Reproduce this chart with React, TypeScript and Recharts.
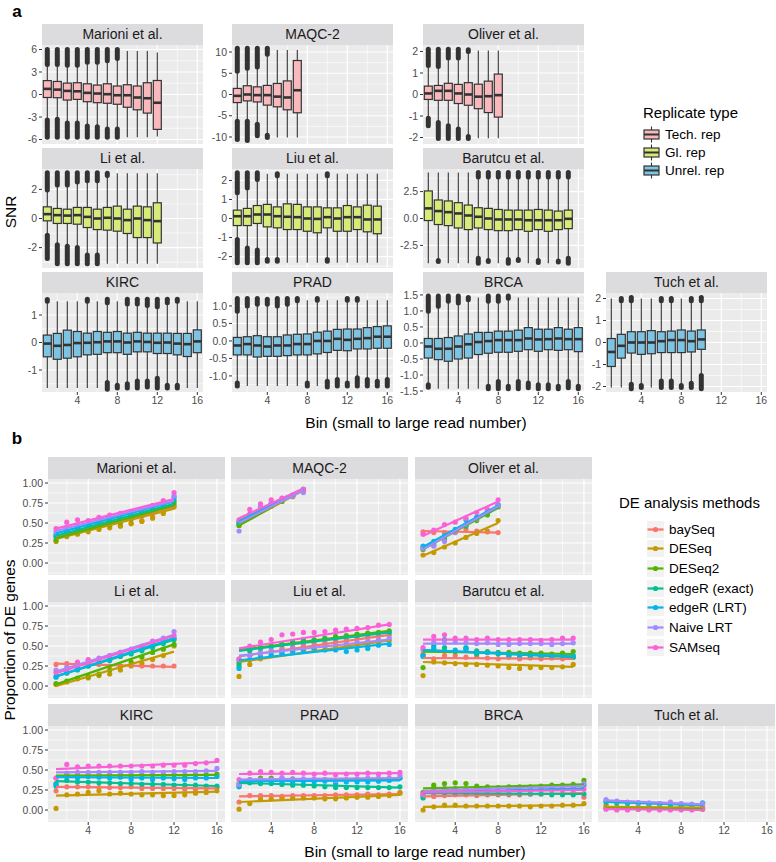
import React from "react";
import { ComposedChart, Bar, Scatter, XAxis, YAxis, CartesianGrid } from "recharts";

const FONT = '"Liberation Sans", Arial, Helvetica, sans-serif';

// ---------- panel a: SNR boxplots ----------
const repTypes = ["Tech. rep", "Gl. rep", "Unrel. rep"];
const repFills = ["#f8b8bc", "#d7ec78", "#7cc4e2"];

// per bin: [min, lower whisker, q1, median, q3, upper whisker, max]
const marioniBox = [
  [-5.7, -3.4, -0.4, 0.75, 1.85, 4.0, 6.0],
  [-5.7, -3.3, -0.43, 0.65, 1.74, 4.0, 6.0],
  [-5.7, -3.8, -0.74, 0.48, 1.52, 3.9, 6.0],
  [-5.7, -3.8, -0.65, 0.43, 1.57, 3.9, 6.0],
  [-5.7, -4.2, -0.96, 0.22, 1.43, 4.3, 6.0],
  [-5.7, -4.3, -1.09, 0.13, 1.26, 4.3, 6.0],
  [-5.7, -4.6, -1.17, 0.04, 1.43, 4.5, 6.0],
  [-5.7, -4.6, -1.3, -0.1, 1.13, 4.8, 6.0],
  [-5.7, -5.7, -1.7, -0.1, 1.3, 5.8, 5.8],
  [-5.7, -5.7, -2.04, -0.4, 1.13, 5.8, 5.8],
  [-5.7, -5.7, -2.48, -0.5, 1.57, 5.8, 5.8],
  [-5.6, -5.6, -4.65, -1.1, 1.87, 5.6, 5.6],
];
const maqcBox = [
  [-10.6, -6.3, -1.9, -0.32, 1.43, 5.5, 10.9],
  [-10.8, -6.3, -1.5, 0.0, 2.06, 6.2, 10.9],
  [-9.7, -7.0, -1.75, -0.15, 1.8, 6.5, 10.9],
  [-10.1, -9.6, -2.5, -0.15, 2.14, 9.5, 10.9],
  [-10.1, -10.1, -2.9, -0.5, 2.6, 10.5, 10.5],
  [-10.1, -10.1, -3.6, -0.7, 3.2, 10.5, 10.5],
  [-10.1, -10.1, -4.3, 1.0, 8.0, 10.5, 10.5],
];
const oliverBox = [
  [-1.45, -1.1, -0.23, 0.05, 0.39, 1.35, 2.1],
  [-2.05, -1.3, -0.27, 0.17, 0.42, 1.3, 2.1],
  [-2.05, -1.45, -0.27, 0.17, 0.52, 1.7, 2.1],
  [-2.05, -1.6, -0.42, 0.05, 0.47, 1.7, 2.1],
  [-2.05, -1.95, -0.5, 0.0, 0.55, 2.0, 2.08],
  [-2.03, -2.03, -0.66, -0.1, 0.48, 2.05, 2.05],
  [-2.03, -2.03, -0.84, -0.08, 0.62, 2.05, 2.05],
  [-2.03, -2.03, -1.05, -0.03, 0.95, 2.05, 2.05],
];
const liBox = [
  [-2.75, -1.15, -0.16, 0.3, 0.8, 1.95, 3.15],
  [-3.1, -1.8, -0.34, 0.23, 0.69, 2.3, 3.15],
  [-3.1, -1.9, -0.34, 0.2, 0.64, 2.3, 3.15],
  [-3.1, -2.0, -0.39, 0.23, 0.76, 2.5, 3.15],
  [-3.1, -2.5, -0.62, 0.11, 0.76, 2.6, 3.15],
  [-3.1, -2.5, -0.76, 0.0, 0.64, 2.6, 3.15],
  [-3.1, -3.1, -0.8, 0.05, 0.76, 2.95, 3.1],
  [-3.1, -3.1, -0.87, 0.0, 0.85, 3.1, 3.1],
  [-3.1, -3.1, -1.03, -0.11, 0.64, 3.1, 3.1],
  [-3.1, -3.1, -1.31, 0.0, 0.85, 3.1, 3.1],
  [-3.1, -3.1, -1.31, -0.11, 0.8, 3.1, 3.1],
  [-3.1, -3.1, -1.68, -0.18, 1.08, 3.1, 3.1],
];
const liuBox = [
  [-2.33, -1.1, -0.37, 0.12, 0.44, 1.35, 2.4],
  [-2.33, -1.55, -0.37, 0.12, 0.53, 1.6, 2.4],
  [-2.33, -1.65, -0.26, 0.21, 0.68, 2.05, 2.4],
  [-2.25, -2.15, -0.44, 0.21, 0.74, 2.35, 2.35],
  [-2.25, -2.15, -0.49, 0.12, 0.61, 2.25, 2.35],
  [-2.33, -2.33, -0.58, 0.09, 0.77, 2.35, 2.35],
  [-2.33, -2.33, -0.58, 0.07, 0.74, 2.35, 2.35],
  [-2.33, -2.33, -0.67, 0.0, 0.61, 2.35, 2.35],
  [-2.33, -2.33, -0.75, -0.02, 0.61, 2.35, 2.35],
  [-2.25, -2.15, -0.49, 0.07, 0.56, 2.25, 2.35],
  [-2.33, -2.33, -0.67, 0.0, 0.56, 2.35, 2.35],
  [-2.33, -2.33, -0.67, 0.07, 0.68, 2.35, 2.35],
  [-2.33, -2.33, -0.58, 0.07, 0.61, 2.35, 2.35],
  [-2.33, -2.33, -0.7, -0.05, 0.7, 2.35, 2.35],
  [-2.33, -2.33, -0.8, -0.05, 0.65, 2.35, 2.35],
];
const barutcuBox = [
  [-4.15, -4.15, -0.19, 0.94, 2.56, 4.28, 4.28],
  [-4.0, -3.9, -0.56, 0.69, 1.72, 4.28, 4.28],
  [-4.15, -4.15, -0.66, 0.59, 1.63, 4.28, 4.28],
  [-4.15, -4.15, -0.88, 0.47, 1.47, 4.28, 4.28],
  [-4.15, -4.15, -1.03, 0.28, 1.25, 4.28, 4.28],
  [-4.15, -3.7, -0.88, 0.16, 1.0, 3.85, 4.28],
  [-4.0, -3.9, -1.03, 0.0, 0.94, 3.85, 4.28],
  [-4.15, -4.15, -1.13, -0.09, 0.84, 3.85, 4.28],
  [-4.15, -3.8, -1.13, -0.09, 0.78, 3.85, 4.28],
  [-3.9, -3.8, -1.03, -0.09, 0.78, 3.85, 4.28],
  [-4.15, -4.15, -1.19, -0.16, 0.78, 3.85, 4.28],
  [-4.1, -3.9, -1.03, -0.16, 0.84, 3.85, 4.28],
  [-4.15, -4.15, -1.19, -0.16, 0.78, 3.85, 4.28],
  [-4.05, -3.95, -1.03, -0.16, 0.69, 3.85, 4.28],
  [-4.15, -3.7, -0.94, -0.03, 0.78, 3.85, 4.28],
];
const kircBox = [
  [-1.65, -1.65, -0.52, -0.04, 0.27, 1.5, 1.56],
  [-1.65, -1.65, -0.61, -0.12, 0.33, 1.5, 1.5],
  [-1.65, -1.65, -0.57, -0.09, 0.45, 1.5, 1.5],
  [-1.65, -1.65, -0.52, -0.02, 0.4, 1.5, 1.5],
  [-1.65, -1.65, -0.45, -0.01, 0.34, 1.5, 1.57],
  [-1.65, -1.65, -0.43, 0.01, 0.4, 1.5, 1.5],
  [-1.7, -1.45, -0.37, 0.04, 0.37, 1.45, 1.57],
  [-1.65, -1.55, -0.37, 0.04, 0.4, 1.5, 1.5],
  [-1.65, -1.5, -0.43, 0.0, 0.34, 1.4, 1.57],
  [-1.65, -1.4, -0.34, 0.04, 0.37, 1.4, 1.57],
  [-1.62, -1.4, -0.34, 0.02, 0.34, 1.35, 1.57],
  [-1.65, -1.3, -0.4, -0.01, 0.34, 1.3, 1.57],
  [-1.65, -1.55, -0.4, 0.0, 0.34, 1.45, 1.57],
  [-1.65, -1.55, -0.45, -0.04, 0.33, 1.5, 1.57],
  [-1.65, -1.65, -0.51, -0.06, 0.33, 1.5, 1.5],
  [-1.65, -1.65, -0.37, 0.04, 0.46, 1.5, 1.5],
];
const pradBox = [
  [-1.29, -1.2, -0.4, -0.13, 0.1, 0.85, 1.21],
  [-1.29, -1.29, -0.4, -0.09, 0.12, 1.0, 1.21],
  [-1.29, -1.29, -0.46, -0.13, 0.15, 1.05, 1.21],
  [-1.29, -1.29, -0.44, -0.16, 0.12, 1.05, 1.19],
  [-1.29, -1.29, -0.44, -0.13, 0.12, 1.0, 1.21],
  [-1.29, -1.29, -0.42, -0.13, 0.17, 1.05, 1.21],
  [-1.29, -1.29, -0.4, -0.09, 0.19, 1.15, 1.21],
  [-1.29, -1.2, -0.4, -0.09, 0.2, 1.16, 1.16],
  [-1.29, -1.29, -0.37, 0.0, 0.25, 1.16, 1.21],
  [-1.32, -1.15, -0.33, 0.0, 0.28, 1.16, 1.16],
  [-1.29, -1.1, -0.27, 0.06, 0.33, 1.16, 1.16],
  [-1.29, -1.2, -0.28, 0.03, 0.34, 1.16, 1.21],
  [-1.29, -1.05, -0.23, 0.06, 0.34, 1.16, 1.21],
  [-1.29, -1.1, -0.23, 0.08, 0.38, 1.16, 1.16],
  [-1.29, -1.15, -0.21, 0.12, 0.41, 1.16, 1.16],
  [-1.29, -1.1, -0.21, 0.12, 0.43, 1.16, 1.16],
];
const brcaBox = [
  [-1.38, -1.3, -0.47, -0.11, 0.14, 0.99, 1.47],
  [-1.43, -1.43, -0.52, -0.18, 0.14, 1.15, 1.47],
  [-1.43, -1.43, -0.57, -0.18, 0.17, 1.3, 1.47],
  [-1.43, -1.43, -0.5, -0.11, 0.22, 1.25, 1.47],
  [-1.43, -1.43, -0.47, -0.04, 0.28, 1.35, 1.42],
  [-1.43, -1.43, -0.36, 0.03, 0.33, 1.42, 1.42],
  [-1.43, -1.35, -0.32, 0.06, 0.33, 1.3, 1.47],
  [-1.43, -1.2, -0.29, 0.09, 0.37, 1.3, 1.47],
  [-1.43, -1.35, -0.29, 0.09, 0.37, 1.4, 1.47],
  [-1.43, -1.2, -0.26, 0.09, 0.4, 1.42, 1.42],
  [-1.4, -1.25, -0.21, 0.14, 0.48, 1.42, 1.42],
  [-1.43, -1.3, -0.26, 0.11, 0.43, 1.42, 1.42],
  [-1.43, -1.3, -0.21, 0.12, 0.43, 1.42, 1.42],
  [-1.43, -1.35, -0.23, 0.14, 0.48, 1.42, 1.42],
  [-1.4, -1.2, -0.21, 0.12, 0.43, 1.42, 1.42],
  [-1.43, -1.35, -0.27, 0.12, 0.48, 1.42, 1.42],
];
const tuchBox = [
  [-2.05, -2.05, -1.09, -0.43, 0.18, 2.0, 2.0],
  [-2.05, -2.05, -0.71, -0.15, 0.37, 1.9, 2.0],
  [-2.1, -1.9, -0.48, 0.0, 0.49, 1.9, 2.05],
  [-2.05, -1.95, -0.54, 0.0, 0.49, 2.0, 2.0],
  [-2.05, -2.05, -0.51, 0.0, 0.54, 2.0, 2.0],
  [-2.05, -1.75, -0.46, 0.06, 0.49, 1.9, 2.0],
  [-2.05, -1.75, -0.46, 0.11, 0.52, 1.9, 2.0],
  [-2.05, -1.95, -0.46, 0.11, 0.57, 2.0, 2.0],
  [-2.05, -1.85, -0.43, 0.06, 0.52, 1.9, 2.0],
  [-2.1, -1.5, -0.31, 0.14, 0.57, 1.9, 2.05],
];

const binTicks = [4, 8, 12, 16];

// ---------- panel b: proportion of DE genes ----------
const methods = ["baySeq", "DESeq", "DESeq2", "edgeR (exact)", "edgeR (LRT)", "Naive LRT", "SAMseq"];
const methodColors = ["#F8766D", "#C49A00", "#53B400", "#00C094", "#00B6EB", "#A58AFF", "#FB61D7"];
const propTicks = [0, 0.25, 0.5, 0.75, 1];

// rows follow `methods`; fits are [value at first bin, value at last bin]
const marioniDE = [
  [0.33, 0.37, 0.40, 0.42, 0.45, 0.47, 0.47, 0.50, 0.53, 0.58, 0.65, 0.72],
  [0.27, 0.33, 0.36, 0.39, 0.42, 0.44, 0.46, 0.49, 0.52, 0.56, 0.62, 0.70],
  [0.29, 0.35, 0.38, 0.42, 0.45, 0.48, 0.51, 0.55, 0.59, 0.63, 0.68, 0.75],
  [0.33, 0.38, 0.42, 0.45, 0.48, 0.51, 0.54, 0.58, 0.61, 0.65, 0.70, 0.78],
  [0.36, 0.41, 0.44, 0.47, 0.50, 0.53, 0.56, 0.60, 0.63, 0.67, 0.72, 0.82],
  [0.39, 0.45, 0.47, 0.50, 0.53, 0.56, 0.59, 0.62, 0.65, 0.69, 0.74, 0.84],
  [0.43, 0.51, 0.54, 0.53, 0.57, 0.60, 0.62, 0.64, 0.67, 0.72, 0.78, 0.88],
];
const marioniFit = [[0.33, 0.70], [0.30, 0.68], [0.31, 0.72], [0.34, 0.74], [0.37, 0.77], [0.40, 0.78], [0.43, 0.80]];

const maqcDE = [
  [0.50, 0.58, 0.66, 0.72, 0.78, 0.84, 0.91],
  [0.47, 0.57, 0.65, 0.71, 0.77, 0.83, 0.90],
  [0.47, 0.58, 0.66, 0.72, 0.77, 0.83, 0.91],
  [0.50, 0.60, 0.68, 0.74, 0.79, 0.84, 0.92],
  [0.52, 0.61, 0.70, 0.75, 0.80, 0.85, 0.92],
  [0.40, 0.60, 0.69, 0.74, 0.79, 0.83, 0.88],
  [0.54, 0.67, 0.74, 0.79, 0.81, 0.85, 0.92],
];
const maqcFit = [[0.53, 0.91], [0.47, 0.91], [0.47, 0.92], [0.50, 0.92], [0.52, 0.93], [0.50, 0.91], [0.56, 0.93]];

const oliverDE = [
  [0.39, 0.38, 0.38, 0.38, 0.42, 0.40, 0.40, 0.38],
  [0.10, 0.13, 0.20, 0.25, 0.32, 0.37, 0.39, 0.53],
  [0.17, 0.22, 0.30, 0.39, 0.46, 0.53, 0.60, 0.70],
  [0.20, 0.25, 0.32, 0.40, 0.47, 0.56, 0.63, 0.72],
  [0.21, 0.27, 0.34, 0.42, 0.54, 0.57, 0.64, 0.73],
  [0.18, 0.21, 0.27, 0.38, 0.48, 0.55, 0.66, 0.72],
  [0.36, 0.41, 0.48, 0.51, 0.56, 0.63, 0.67, 0.79],
];
const oliverFit = [[0.40, 0.38], [0.09, 0.50], [0.17, 0.69], [0.19, 0.70], [0.20, 0.72], [0.17, 0.71], [0.34, 0.77]];

const liDE = [
  [0.27, 0.28, 0.25, 0.27, 0.27, 0.25, 0.25, 0.26, 0.25, 0.25, 0.25, 0.25],
  [0.02, 0.05, 0.09, 0.10, 0.13, 0.15, 0.20, 0.25, 0.28, 0.33, 0.38, 0.50],
  [0.03, 0.06, 0.10, 0.12, 0.15, 0.20, 0.25, 0.30, 0.36, 0.42, 0.46, 0.52],
  [0.12, 0.16, 0.20, 0.25, 0.28, 0.32, 0.37, 0.40, 0.44, 0.48, 0.53, 0.58],
  [0.11, 0.17, 0.21, 0.25, 0.29, 0.33, 0.38, 0.42, 0.46, 0.50, 0.55, 0.60],
  [0.20, 0.24, 0.28, 0.32, 0.35, 0.38, 0.42, 0.46, 0.50, 0.55, 0.60, 0.68],
  [0.17, 0.21, 0.30, 0.33, 0.34, 0.38, 0.42, 0.44, 0.49, 0.56, 0.58, 0.63],
];
const liFit = [[0.28, 0.24], [0.0, 0.43], [0.02, 0.52], [0.12, 0.58], [0.12, 0.60], [0.18, 0.64], [0.16, 0.63]];

const liuDE = [
  [0.31, 0.38, 0.42, 0.44, 0.47, 0.49, 0.51, 0.53, 0.55, 0.57, 0.58, 0.60, 0.61, 0.63, 0.64],
  [0.12, 0.27, 0.34, 0.38, 0.41, 0.44, 0.45, 0.47, 0.49, 0.50, 0.51, 0.53, 0.50, 0.55, 0.57],
  [0.25, 0.45, 0.48, 0.50, 0.52, 0.55, 0.57, 0.58, 0.60, 0.62, 0.63, 0.65, 0.66, 0.67, 0.69],
  [0.28, 0.44, 0.47, 0.49, 0.52, 0.54, 0.56, 0.57, 0.59, 0.60, 0.62, 0.63, 0.65, 0.66, 0.67],
  [0.22, 0.33, 0.37, 0.39, 0.41, 0.43, 0.44, 0.46, 0.45, 0.45, 0.43, 0.45, 0.47, 0.51, 0.52],
  [0.34, 0.38, 0.41, 0.44, 0.45, 0.47, 0.48, 0.50, 0.51, 0.52, 0.54, 0.55, 0.56, 0.58, 0.60],
  [0.33, 0.50, 0.55, 0.58, 0.64, 0.65, 0.67, 0.67, 0.68, 0.70, 0.71, 0.72, 0.73, 0.76, 0.77],
];
const liuFit = [[0.37, 0.64], [0.30, 0.57], [0.45, 0.69], [0.44, 0.67], [0.32, 0.53], [0.38, 0.58], [0.47, 0.77]];

const barutcuDE = [
  [0.40, 0.34, 0.38, 0.38, 0.36, 0.37, 0.35, 0.34, 0.36, 0.34, 0.35, 0.34, 0.35, 0.34, 0.36],
  [0.13, 0.30, 0.29, 0.28, 0.27, 0.27, 0.26, 0.25, 0.23, 0.22, 0.23, 0.23, 0.23, 0.24, 0.27],
  [0.23, 0.45, 0.44, 0.43, 0.47, 0.44, 0.43, 0.42, 0.42, 0.41, 0.41, 0.41, 0.40, 0.41, 0.43],
  [0.38, 0.50, 0.48, 0.44, 0.48, 0.40, 0.42, 0.40, 0.38, 0.37, 0.37, 0.36, 0.36, 0.37, 0.36],
  [0.37, 0.47, 0.58, 0.45, 0.46, 0.43, 0.42, 0.41, 0.39, 0.38, 0.39, 0.38, 0.37, 0.38, 0.38],
  [0.45, 0.55, 0.54, 0.55, 0.54, 0.53, 0.54, 0.52, 0.52, 0.53, 0.53, 0.53, 0.52, 0.53, 0.54],
  [0.48, 0.62, 0.64, 0.60, 0.60, 0.58, 0.60, 0.58, 0.58, 0.58, 0.58, 0.57, 0.58, 0.60, 0.60],
];
const barutcuFit = [[0.35, 0.34], [0.30, 0.24], [0.43, 0.40], [0.45, 0.36], [0.45, 0.37], [0.53, 0.53], [0.58, 0.58]];

const kircDE = [
  [0.24, 0.29, 0.29, 0.29, 0.28, 0.28, 0.28, 0.29, 0.27, 0.27, 0.27, 0.27, 0.26, 0.26, 0.27, 0.28],
  [0.02, 0.19, 0.20, 0.22, 0.24, 0.20, 0.21, 0.20, 0.19, 0.19, 0.18, 0.18, 0.19, 0.21, 0.22, 0.24],
  [0.33, 0.44, 0.43, 0.43, 0.43, 0.43, 0.44, 0.43, 0.44, 0.44, 0.43, 0.44, 0.43, 0.44, 0.44, 0.45],
  [0.30, 0.37, 0.35, 0.35, 0.34, 0.34, 0.33, 0.33, 0.32, 0.32, 0.32, 0.31, 0.31, 0.31, 0.30, 0.30],
  [0.32, 0.42, 0.40, 0.42, 0.41, 0.40, 0.41, 0.38, 0.40, 0.38, 0.40, 0.39, 0.38, 0.40, 0.40, 0.42],
  [0.40, 0.46, 0.47, 0.47, 0.47, 0.47, 0.47, 0.47, 0.48, 0.47, 0.47, 0.48, 0.48, 0.48, 0.49, 0.52],
  [0.40, 0.57, 0.54, 0.55, 0.55, 0.55, 0.55, 0.55, 0.55, 0.55, 0.56, 0.56, 0.56, 0.58, 0.59, 0.62],
];
const kircFit = [[0.29, 0.27], [0.18, 0.23], [0.43, 0.44], [0.36, 0.30], [0.41, 0.40], [0.47, 0.49], [0.51, 0.60]];

const pradDE = [
  [0.10, 0.18, 0.18, 0.18, 0.17, 0.18, 0.18, 0.18, 0.18, 0.19, 0.19, 0.19, 0.20, 0.19, 0.20, 0.22],
  [0.01, 0.08, 0.14, 0.14, 0.15, 0.15, 0.15, 0.15, 0.14, 0.14, 0.15, 0.16, 0.16, 0.17, 0.18, 0.21],
  [0.33, 0.38, 0.40, 0.40, 0.40, 0.39, 0.38, 0.38, 0.38, 0.37, 0.37, 0.38, 0.38, 0.38, 0.39, 0.40],
  [0.29, 0.34, 0.33, 0.33, 0.32, 0.31, 0.31, 0.30, 0.29, 0.28, 0.28, 0.28, 0.28, 0.28, 0.28, 0.29],
  [0.30, 0.36, 0.36, 0.36, 0.34, 0.35, 0.36, 0.35, 0.36, 0.33, 0.35, 0.35, 0.35, 0.36, 0.37, 0.40],
  [0.32, 0.38, 0.38, 0.38, 0.40, 0.38, 0.39, 0.39, 0.38, 0.37, 0.38, 0.39, 0.40, 0.40, 0.40, 0.43],
  [0.38, 0.46, 0.48, 0.47, 0.46, 0.47, 0.46, 0.45, 0.46, 0.44, 0.45, 0.45, 0.46, 0.45, 0.46, 0.47],
];
const pradFit = [[0.17, 0.20], [0.10, 0.19], [0.36, 0.39], [0.34, 0.28], [0.36, 0.37], [0.38, 0.40], [0.45, 0.46]];

const brcaDE = [
  [0.16, 0.17, 0.18, 0.19, 0.19, 0.18, 0.19, 0.19, 0.19, 0.19, 0.20, 0.20, 0.20, 0.20, 0.21, 0.16],
  [0.00, 0.04, 0.06, 0.06, 0.05, 0.05, 0.05, 0.05, 0.05, 0.05, 0.04, 0.05, 0.05, 0.06, 0.06, 0.08],
  [0.22, 0.31, 0.33, 0.34, 0.33, 0.30, 0.29, 0.28, 0.29, 0.29, 0.29, 0.30, 0.31, 0.31, 0.32, 0.37],
  [0.15, 0.21, 0.22, 0.22, 0.21, 0.20, 0.20, 0.20, 0.20, 0.20, 0.20, 0.20, 0.19, 0.19, 0.19, 0.20],
  [0.18, 0.23, 0.26, 0.26, 0.25, 0.24, 0.24, 0.25, 0.25, 0.25, 0.26, 0.26, 0.27, 0.27, 0.28, 0.31],
  [0.20, 0.25, 0.27, 0.27, 0.26, 0.26, 0.26, 0.27, 0.27, 0.27, 0.28, 0.28, 0.29, 0.29, 0.30, 0.33],
  [0.20, 0.22, 0.24, 0.24, 0.23, 0.23, 0.22, 0.23, 0.24, 0.24, 0.24, 0.25, 0.25, 0.25, 0.25, 0.26],
];
const brcaFit = [[0.17, 0.21], [0.04, 0.06], [0.27, 0.32], [0.21, 0.20], [0.22, 0.27], [0.24, 0.30], [0.22, 0.25]];

const tuchDE = [
  [0.03, 0.02, 0.02, 0.02, 0.02, 0.02, 0.02, 0.02, 0.02, 0.02],
  [0.06, 0.04, 0.03, 0.03, 0.03, 0.03, 0.03, 0.03, 0.03, 0.03],
  [0.02, 0.01, 0.01, 0.01, 0.01, 0.01, 0.01, 0.01, 0.01, 0.01],
  [0.10, 0.09, 0.08, 0.08, 0.07, 0.07, 0.07, 0.06, 0.06, 0.08],
  [0.11, 0.10, 0.09, 0.09, 0.08, 0.08, 0.08, 0.07, 0.07, 0.09],
  [0.13, 0.11, 0.10, 0.09, 0.09, 0.08, 0.10, 0.08, 0.07, 0.08],
  [0.01, 0.00, 0.00, 0.01, 0.00, 0.00, 0.00, 0.00, 0.00, 0.01],
];
const tuchFit = [[0.02, 0.02], [0.04, 0.03], [0.02, 0.01], [0.10, 0.06], [0.11, 0.06], [0.12, 0.07], [0.01, 0.00]];

// ---------- layout ----------
const A_COLS = [42, 232, 423, 606];
const A_PW = 161;
const A_STRIPS = [24, 148, 272];
const A_SH = 21;
const A_PH = 99;

const B_COLS = [48, 231, 415, 598];
const B_PW = 177;
const B_STRIPS = [457, 580, 704];
const B_SH = 22;
const B_PH = 96;

// extra room above/below the plot so edge tick labels are not clipped
const PAD = 8;

const int = (v: number) => String(v);
const one = (v: number) => v.toFixed(1);

const boxFacets = [
  { title: "Marioni et al.", box: marioniBox, rep: 0, row: 0, col: 0, domain: [-6.6, 6.6], ticks: [-6, -3, 0, 3, 6], fmt: int },
  { title: "MAQC-2", box: maqcBox, rep: 0, row: 0, col: 1, domain: [-11.65, 11.65], ticks: [-10, -5, 0, 5, 10], fmt: int },
  { title: "Oliver et al.", box: oliverBox, rep: 0, row: 0, col: 2, domain: [-2.3, 2.3], ticks: [-2, -1, 0, 1, 2], fmt: int },
  { title: "Li et al.", box: liBox, rep: 1, row: 1, col: 0, domain: [-3.4, 3.4], ticks: [-2, 0, 2], fmt: int },
  { title: "Liu et al.", box: liuBox, rep: 1, row: 1, col: 1, domain: [-2.6, 2.6], ticks: [-2, -1, 0, 1, 2], fmt: int },
  { title: "Barutcu et al.", box: barutcuBox, rep: 1, row: 1, col: 2, domain: [-4.6, 4.6], ticks: [-2.5, 0, 2.5], fmt: one },
  { title: "KIRC", box: kircBox, rep: 2, row: 2, col: 0, domain: [-1.8, 1.8], ticks: [-1, 0, 1], fmt: int },
  { title: "PRAD", box: pradBox, rep: 2, row: 2, col: 1, domain: [-1.46, 1.37], ticks: [-1, -0.5, 0, 0.5, 1], fmt: one },
  { title: "BRCA", box: brcaBox, rep: 2, row: 2, col: 2, domain: [-1.53, 1.56], ticks: [-1.5, -1, -0.5, 0, 0.5, 1, 1.5], fmt: one },
  { title: "Tuch et al.", box: tuchBox, rep: 2, row: 2, col: 3, domain: [-2.25, 2.25], ticks: [-2, -1, 0, 1, 2], fmt: int },
];

const deFacets = [
  { title: "Marioni et al.", de: marioniDE, fit: marioniFit, row: 0, col: 0 },
  { title: "MAQC-2", de: maqcDE, fit: maqcFit, row: 0, col: 1 },
  { title: "Oliver et al.", de: oliverDE, fit: oliverFit, row: 0, col: 2 },
  { title: "Li et al.", de: liDE, fit: liFit, row: 1, col: 0 },
  { title: "Liu et al.", de: liuDE, fit: liuFit, row: 1, col: 1 },
  { title: "Barutcu et al.", de: barutcuDE, fit: barutcuFit, row: 1, col: 2 },
  { title: "KIRC", de: kircDE, fit: kircFit, row: 2, col: 0 },
  { title: "PRAD", de: pradDE, fit: pradFit, row: 2, col: 1 },
  { title: "BRCA", de: brcaDE, fit: brcaFit, row: 2, col: 2 },
  { title: "Tuch et al.", de: tuchDE, fit: tuchFit, row: 2, col: 3 },
];

// half-way grid lines, ggplot style
const minorOf = (ticks: number[], domain: number[]) => {
  const step = ticks[1] - ticks[0];
  const out: number[] = [];
  for (let v = ticks[0] - step / 2; v <= domain[1]; v += step) if (v >= domain[0]) out.push(v);
  return out;
};

const DARK = "#333333";
const tickStyle = { fontSize: 10.5, fill: "#4d4d4d", fontFamily: FONT };

const BoxGlyph = (props: any) => {
  const { x, y, width, height, payload, fill } = props;
  if (x == null || !payload) return null;
  const [mn, wlo, q1, med, q3, whi, mx] = payload.stats;
  const top = Math.min(y, y + height);
  const bot = Math.max(y, y + height);
  const span = mx - mn || 1;
  const py = (v: number) => top + ((mx - v) / span) * (bot - top);
  const cx = x + width / 2;
  return (
    <g>
      <line x1={cx} x2={cx} y1={py(whi)} y2={py(wlo)} stroke={DARK} strokeWidth={1.1} />
      {mx > whi && (
        <line x1={cx} x2={cx} y1={py(mx)} y2={py(whi)} stroke={DARK} strokeWidth={5} strokeLinecap="round" />
      )}
      {mn < wlo && (
        <line x1={cx} x2={cx} y1={py(wlo)} y2={py(mn)} stroke={DARK} strokeWidth={5} strokeLinecap="round" />
      )}
      <rect x={x} y={py(q3)} width={width} height={py(q1) - py(q3)} fill={fill} stroke={DARK} strokeWidth={1.2} />
      <line x1={x} x2={x + width} y1={py(med)} y2={py(med)} stroke={DARK} strokeWidth={2.6} />
    </g>
  );
};

const Strip = ({ left, top, width, height, title }: any) => (
  <div
    style={{
      position: "absolute", left, top, width, height, background: "#dcdbde",
      color: "#1a1a1a", fontSize: 14, lineHeight: `${height}px`, textAlign: "center", whiteSpace: "nowrap",
    }}
  >
    {title}
  </div>
);

function BoxFacet({ f }: any) {
  const left = A_COLS[f.col];
  const stripTop = A_STRIPS[f.row];
  const showX = f.row === 2;
  const YW = 40;
  const data = f.box.map((s: number[], i: number) => ({ x: i + 1, range: [s[0], s[6]], stats: s }));
  return (
    <>
      <Strip left={left} top={stripTop} width={A_PW} height={A_SH} title={f.title} />
      <div style={{ position: "absolute", left: left - YW, top: stripTop + A_SH - PAD }}>
        <ComposedChart
          width={YW + A_PW}
          height={A_PH + 2 * PAD + (showX ? 18 : 0)}
          data={data}
          margin={{ top: PAD, right: 0, bottom: PAD, left: 0 }}
        >
          <CartesianGrid fill="#ebebeb" stroke="#ffffff" strokeWidth={0.6} horizontalValues={minorOf(f.ticks, f.domain)} verticalValues={[2, 6, 10, 14]} />
          <CartesianGrid stroke="#ffffff" strokeWidth={1.2} horizontalValues={f.ticks} verticalValues={binTicks} />
          <XAxis type="number" dataKey="x" domain={[0.47, 16.57]} ticks={binTicks} allowDataOverflow hide={!showX} height={18}
            interval={0} tickSize={3} tickMargin={2} axisLine={false} tickLine={{ stroke: DARK }} tick={tickStyle} />
          <YAxis type="number" domain={f.domain} ticks={f.ticks} allowDataOverflow width={YW} interval={0}
            tickSize={3} tickMargin={2} axisLine={false} tickLine={{ stroke: DARK }} tick={tickStyle} tickFormatter={f.fmt} />
          <Bar dataKey="range" fill={repFills[f.rep]} barSize={8} isAnimationActive={false} shape={(p: any) => <BoxGlyph {...p} />} />
        </ComposedChart>
      </div>
    </>
  );
}

function DEFacet({ f }: any) {
  const left = B_COLS[f.col];
  const stripTop = B_STRIPS[f.row];
  const showX = f.row === 2;
  const showY = f.col === 0;
  const YW = showY ? 44 : 0;
  return (
    <>
      <Strip left={left} top={stripTop} width={B_PW} height={B_SH} title={f.title} />
      <div style={{ position: "absolute", left: left - YW, top: stripTop + B_SH - PAD }}>
        <ComposedChart
          width={YW + B_PW}
          height={B_PH + 2 * PAD + (showX ? 18 : 0)}
          margin={{ top: PAD, right: 0, bottom: PAD, left: 0 }}
        >
          <CartesianGrid fill="#ebebeb" stroke="#ffffff" strokeWidth={0.6} horizontalValues={[-0.125, 0.125, 0.375, 0.625, 0.875]} verticalValues={[2, 6, 10, 14]} />
          <CartesianGrid stroke="#ffffff" strokeWidth={1.2} horizontalValues={propTicks} verticalValues={binTicks} />
          <XAxis type="number" dataKey="x" domain={[0.25, 16.75]} ticks={binTicks} allowDataOverflow hide={!showX} height={18}
            interval={0} tickSize={3} tickMargin={2} axisLine={false} tickLine={{ stroke: DARK }} tick={tickStyle} />
          <YAxis type="number" dataKey="y" domain={[-0.15, 1.05]} ticks={propTicks} allowDataOverflow hide={!showY} width={YW}
            interval={0} tickSize={3} tickMargin={2} axisLine={false} tickLine={{ stroke: DARK }} tick={tickStyle}
            tickFormatter={(v: number) => v.toFixed(2)} />
          {methods.map((m, i) => (
            <Scatter
              key={"p" + m}
              data={f.de[i].map((v: number, j: number) => ({ x: j + 1, y: v }))}
              dataKey="y"
              fill={methodColors[i]}
              isAnimationActive={false}
              shape={(p: any) => <circle cx={p.cx} cy={p.cy} r={2.6} fill={methodColors[i]} />}
            />
          ))}
          {methods.map((m, i) => (
            <Scatter
              key={"l" + m}
              data={[{ x: 1, y: f.fit[i][0] }, { x: f.de[i].length, y: f.fit[i][1] }]}
              dataKey="y"
              fill={methodColors[i]}
              line={{ stroke: methodColors[i], strokeWidth: 2.2 }}
              isAnimationActive={false}
              shape={() => <g />}
            />
          ))}
        </ComposedChart>
      </div>
    </>
  );
}

const BoxKey = ({ fill }: any) => (
  <svg width={17} height={17} style={{ display: "block" }}>
    <line x1={8.5} x2={8.5} y1={0.5} y2={16.5} stroke={DARK} strokeWidth={1.1} />
    <rect x={1} y={4} width={15} height={9} fill={fill} stroke={DARK} strokeWidth={1.2} />
    <line x1={1} x2={16} y1={8.5} y2={8.5} stroke={DARK} strokeWidth={2} />
  </svg>
);

const DotKey = ({ color }: any) => (
  <svg width={17} height={17} style={{ display: "block" }}>
    <rect x={0} y={0} width={17} height={17} fill="#f2f2f2" />
    <line x1={0.5} x2={16.5} y1={8.5} y2={8.5} stroke={color} strokeWidth={2.2} />
    <circle cx={8.5} cy={8.5} r={2.6} fill={color} />
  </svg>
);

const Rotated = ({ x, y, text }: any) => (
  <div style={{ position: "absolute", left: x, top: y, transform: "translate(-50%, -50%) rotate(-90deg)", fontSize: 15.5, lineHeight: 1, whiteSpace: "nowrap", color: "#000" }}>
    {text}
  </div>
);

const Centered = ({ x, y, text, size, bold }: any) => (
  <div style={{ position: "absolute", left: x, top: y, transform: "translate(-50%, -50%)", fontSize: size, lineHeight: 1, fontWeight: bold ? 700 : 400, whiteSpace: "nowrap", color: "#000" }}>
    {text}
  </div>
);

export default function App() {
  return (
    <div style={{ position: "absolute", left: 0, top: 0, width: 776, height: 862, background: "#fff", overflow: "hidden", fontFamily: FONT }}>
      <Centered x={17} y={11} text="a" size={17} bold />
      <Centered x={17} y={438} text="b" size={17} bold />

      {boxFacets.map((f) => <BoxFacet key={"a" + f.title} f={f} />)}
      {deFacets.map((f) => <DEFacet key={"b" + f.title} f={f} />)}

      <Rotated x={11} y={212} text="SNR" />
      <Rotated x={10} y={640} text="Proportion of DE genes" />
      <Centered x={416} y={423} text="Bin (small to large read number)" size={15.5} />
      <Centered x={415} y={852} text="Bin (small to large read number)" size={15.5} />

      {/* legend a */}
      <div style={{ position: "absolute", left: 643, top: 104, fontSize: 15, whiteSpace: "nowrap" }}>Replicate type</div>
      {repTypes.map((r, i) => (
        <div key={r} style={{ position: "absolute", left: 643, top: 125.5 + i * 18, display: "flex", alignItems: "center", height: 17 }}>
          <BoxKey fill={repFills[i]} />
          <span style={{ marginLeft: 5, fontSize: 13.5, whiteSpace: "nowrap" }}>{r}</span>
        </div>
      ))}

      {/* legend b */}
      <div style={{ position: "absolute", left: 619, top: 494, fontSize: 15, whiteSpace: "nowrap" }}>DE analysis methods</div>
      {methods.map((m, i) => (
        <div key={m} style={{ position: "absolute", left: 647, top: 520.5 + i * 19.7, display: "flex", alignItems: "center", height: 17 }}>
          <DotKey color={methodColors[i]} />
          <span style={{ marginLeft: 5, fontSize: 13.5, whiteSpace: "nowrap" }}>{m}</span>
        </div>
      ))}
    </div>
  );
}
